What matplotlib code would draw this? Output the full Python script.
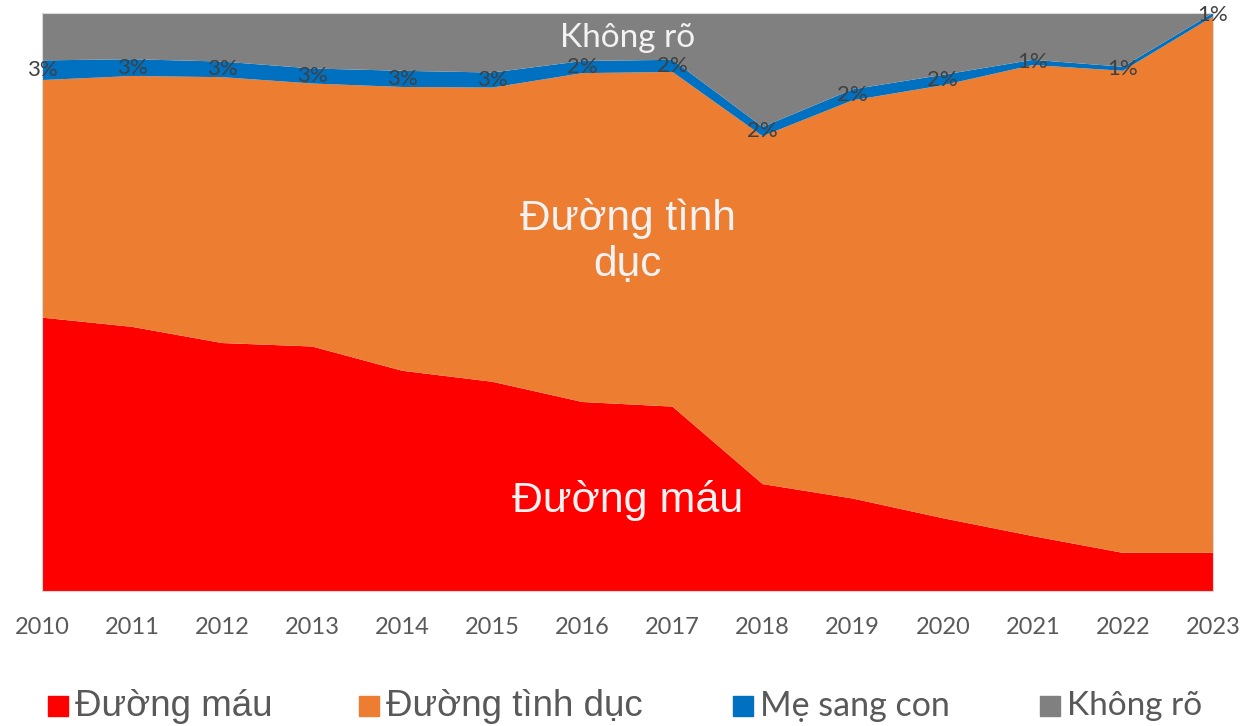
import matplotlib
matplotlib.use("Agg")
import matplotlib.pyplot as plt
import numpy as np

# Dữ liệu (% theo năm)
years = list(range(2010, 2024))
duong_mau = [47.3, 45.7, 42.9, 42.3, 38.1, 36.2, 32.7, 31.9, 18.5, 16.0, 12.6, 9.5, 6.6, 6.6]
duong_tinh_duc = [41.1, 43.4, 46.0, 45.5, 49.1, 50.9, 56.9, 57.9, 60.2, 68.9, 74.9, 81.5, 83.4, 92.8]
me_sang_con = [3.4, 2.9, 2.7, 2.6, 2.8, 2.6, 2.1, 2.1, 1.6, 1.9, 1.8, 0.9, 0.7, 0.6]
khong_ro = [8.2, 8.0, 8.4, 9.6, 10.0, 10.3, 8.3, 8.1, 19.7, 13.2, 10.7, 8.1, 9.3, 0.0]

series_names = ["Đường máu", "Đường tình dục", "Mẹ sang con", "Không rõ"]
colors = ["#FF0000", "#ED7D31", "#0070C0", "#808080"]

W, H = 1241, 726
fig = plt.figure(figsize=(W / 100, H / 100), dpi=100)
fig.patch.set_facecolor("white")
ax = fig.add_axes([42 / W, 1 - 591 / H, (1213 - 42) / W, (591 - 13) / H])

ax.stackplot(years, duong_mau, duong_tinh_duc, me_sang_con, khong_ro,
             colors=colors, linewidth=0)
ax.set_xlim(years[0], years[-1])
ax.set_ylim(0, 100)
ax.set_yticks([])
ax.set_xticks(years)
ax.set_xticklabels([str(y) for y in years], family="Lato", fontsize=17, color="#595959")
ax.tick_params(axis="x", length=0, pad=19)
for s in ax.spines.values():
    s.set_color("#d9d9d9")
    s.set_linewidth(0.8)

# nhãn % cho "Mẹ sang con"
base = np.array(duong_mau) + np.array(duong_tinh_duc)
for x, b, v in zip(years, base, me_sang_con):
    ax.text(x, b + v / 2, f"{round(v):.0f}%", ha="center", va="center",
            family="Lato", fontsize=16, color="#404040", clip_on=False)

# nhãn tên vùng
xc = (years[0] + years[-1]) / 2
ax.text(xc, 95.6, "Không rõ", ha="center", va="center", family="Lato",
        fontsize=24, color="#f2f2f2")
ax.text(xc, 60.5, "Đường tình\ndục", ha="center", va="center",
        family="Liberation Sans", fontsize=30.5, color="#f2f2f2", linespacing=1.2)
ax.text(xc, 15.6, "Đường máu", ha="center", va="center",
        family="Liberation Sans", fontsize=31, color="#f2f2f2")

# chú thích
leg_items = [(48, "Liberation Sans", 26.5), (359, "Liberation Sans", 26.5),
             (733, "Lato", 24.5), (1040, "Lato", 24)]
ly = 1 - 706 / H
for (px, fam, fs), name, c in zip(leg_items, series_names, colors):
    fig.patches.append(plt.Rectangle((px / W, ly - 10 / H), 20 / W, 20 / H,
                                     transform=fig.transFigure, color=c, figure=fig))
    fig.text((px + 27) / W, ly, name, ha="left", va="center", family=fam,
             fontsize=fs, color="#595959")

fig.savefig("out.png", dpi=100, facecolor="white")
